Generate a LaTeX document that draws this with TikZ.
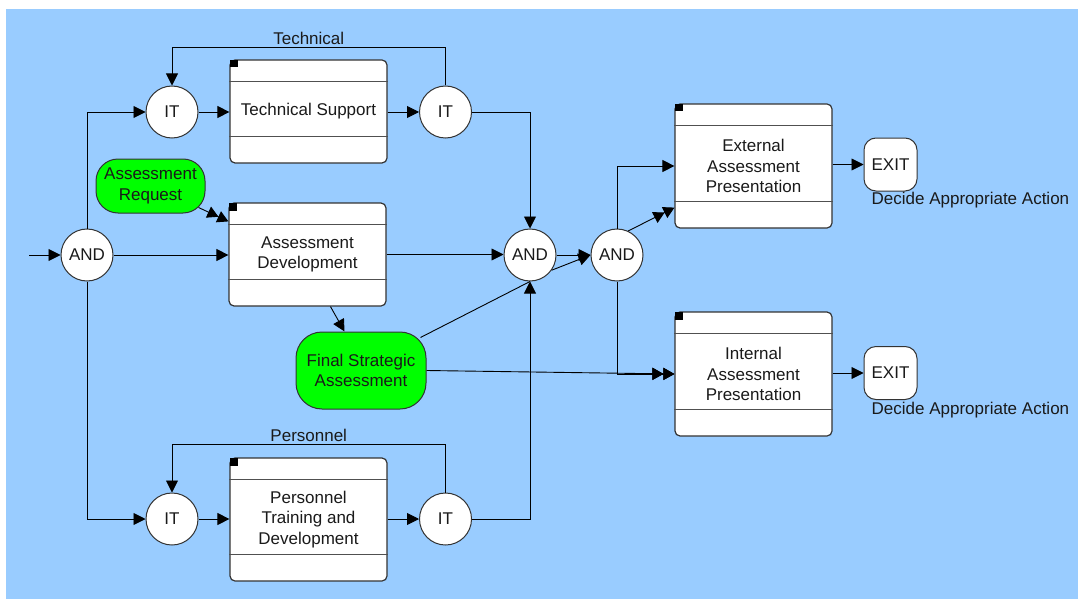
\documentclass[tikz,border=0pt]{standalone}
\usepackage{fontspec}
\setmainfont{Liberation Sans}
\usetikzlibrary{arrows.meta,calc}
\definecolor{skyback}{HTML}{99CCFF}
\definecolor{leafgreen}{HTML}{00FF00}
\definecolor{edgegray}{HTML}{333333}
\definecolor{rulegray}{HTML}{505050}
\definecolor{inkgray}{HTML}{1A1A1A}

\begin{document}
\begin{tikzpicture}[x=1pt,y=-1pt,
  every node/.style={font=\fontsize{17}{20.5}\selectfont, text=inkgray},
  junction/.style={circle, draw=edgegray, fill=white, line width=1pt,
    minimum size=52pt, inner sep=0pt},
  statebox/.style={rectangle, rounded corners=5pt, draw=edgegray, fill=white,
    line width=1.2pt, minimum width=157pt, align=center, inner sep=0pt},
  eventbox/.style={rectangle, draw=edgegray, fill=leafgreen, line width=1pt,
    align=center, inner sep=0pt},
  exitbox/.style={rectangle, rounded corners=12pt, draw=edgegray, fill=white,
    line width=1pt, minimum width=53pt, minimum height=53pt, inner sep=0pt},
  caption/.style={inner sep=2.5pt},
  flow/.style={draw=black, line width=0.9pt,
    -{Triangle[length=12pt,width=12pt]}},
  multiflow/.style={draw=black, line width=0.9pt,
    -{Triangle[length=11pt,width=12pt,sep=0pt]Triangle[length=11pt,width=12pt]}},
  plain/.style={draw=black, line width=0.9pt},
]
% canvas
\useasboundingbox (0,0) rectangle (1078,599);
\fill[skyback] (6,9) rectangle (1078,599);

% junctions
\node[junction] (and1) at (87,255) {AND};
\node[junction] (it1) at (172,112) {IT};
\node[junction] (it2) at (445.5,112) {IT};
\node[junction] (and2) at (530,255) {AND};
\node[junction] (and3) at (617,255) {AND};
\node[junction] (it3) at (172,519) {IT};
\node[junction] (it4) at (445.5,519) {IT};

% state boxes
\node[statebox, minimum height=103pt] (ts) at (308.5,111.5) {Technical Support};
\node[statebox, minimum height=103pt] (ad) at (307.5,254.5) {Assessment\\Development};
\node[statebox, minimum height=124pt] (eap) at (753.5,166) {External\\Assessment\\Presentation};
\node[statebox, minimum height=124pt] (iap) at (753.5,374) {Internal\\Assessment\\Presentation};
\node[statebox, minimum height=123pt] (ptd) at (308.5,519.5) {Personnel\\Training and\\Development};

\foreach \b in {ts,ad,eap,iap,ptd}{
  \draw[rulegray, line width=1.2pt] ([yshift=-22pt]\b.north west) -- ([yshift=-22pt]\b.north east);
  \draw[rulegray, line width=1.2pt] ([yshift=27pt]\b.south west) -- ([yshift=27pt]\b.south east);
  \fill[black] ([shift={(0.6pt,-0.6pt)}]\b.north west) rectangle ++(7.5pt,-7.5pt);
}

% events
\node[eventbox, rounded corners=22pt, minimum width=109pt, minimum height=54pt]
  (ar) at (150.5,186) {Assessment\\Request};
\node[eventbox, rounded corners=26pt, minimum width=130pt, minimum height=77pt]
  (fsa) at (361,370.5) {Final Strategic\\Assessment};

% exits
\node[exitbox] (exit1) at (890.5,164.5) {EXIT};
\node[exitbox] (exit2) at (890.5,373) {EXIT};
\node[anchor=base west, inner sep=0pt] (act1) at ([shift={(8pt,-13.3pt)}]exit1.south west) {Decide Appropriate Action};
\node[anchor=base west, inner sep=0pt] (act2) at ([shift={(8pt,-14pt)}]exit2.south west) {Decide Appropriate Action};

% connectors
\coordinate (entry) at (29,255);
\draw[flow] (entry) -- (and1.west);
\draw[flow] (and1.north) |- (it1);
\draw[flow] (and1.east) -- (and1.east -| ad.west);
\draw[flow] (and1.south) |- (it3);

\draw[flow] (it1.east) -- (it1.east -| ts.west);
\draw[flow] (ts.east |- it2) -- (it2.west);
\draw[flow] (it2.north) -- ++(0,-38) -| node[caption, pos=0.25, above] {Technical} (it1.north);
\draw[flow] (it2.east) -| (and2.north);

\draw[multiflow] ([shift={(-7pt,6pt)}]ar.south east) -- ([yshift=-19pt]ad.north west);
\draw[flow] (ad.east) -- (ad.east -| and2.west);
\draw[flow] ([xshift=23pt]ad.south) -- ([xshift=-16.5pt]fsa.north);

\draw[plain] ([shift={(-6pt,-6pt)}]fsa.north east) -- (and2.south);
\draw[multiflow] (fsa.east) -- (iap.west);

\draw[flow] (it3.east) -- (it3.east -| ptd.west);
\draw[flow] (ptd.east |- it4) -- (it4.west);
\draw[flow] (it4.north) -- ++(0,-48) -| node[caption, pos=0.25, above] {Personnel} (it3.north);
\draw[flow] (it4.east) -| (and2.south);

\draw[flow] (and2.east) -- (and3.west);
\draw[flow] (and2.-35) -- (and3.west);

\draw[flow] (and3.north) |- (eap);
\draw[multiflow] (and3.65) -- ([yshift=21pt]eap.south west);
\draw[multiflow] (and3.south) |- (iap.west);

\draw[flow] (eap.east |- exit1) -- (exit1.west);
\draw[flow] (iap.east |- exit2) -- (exit2.west);
\end{tikzpicture}
\end{document}
